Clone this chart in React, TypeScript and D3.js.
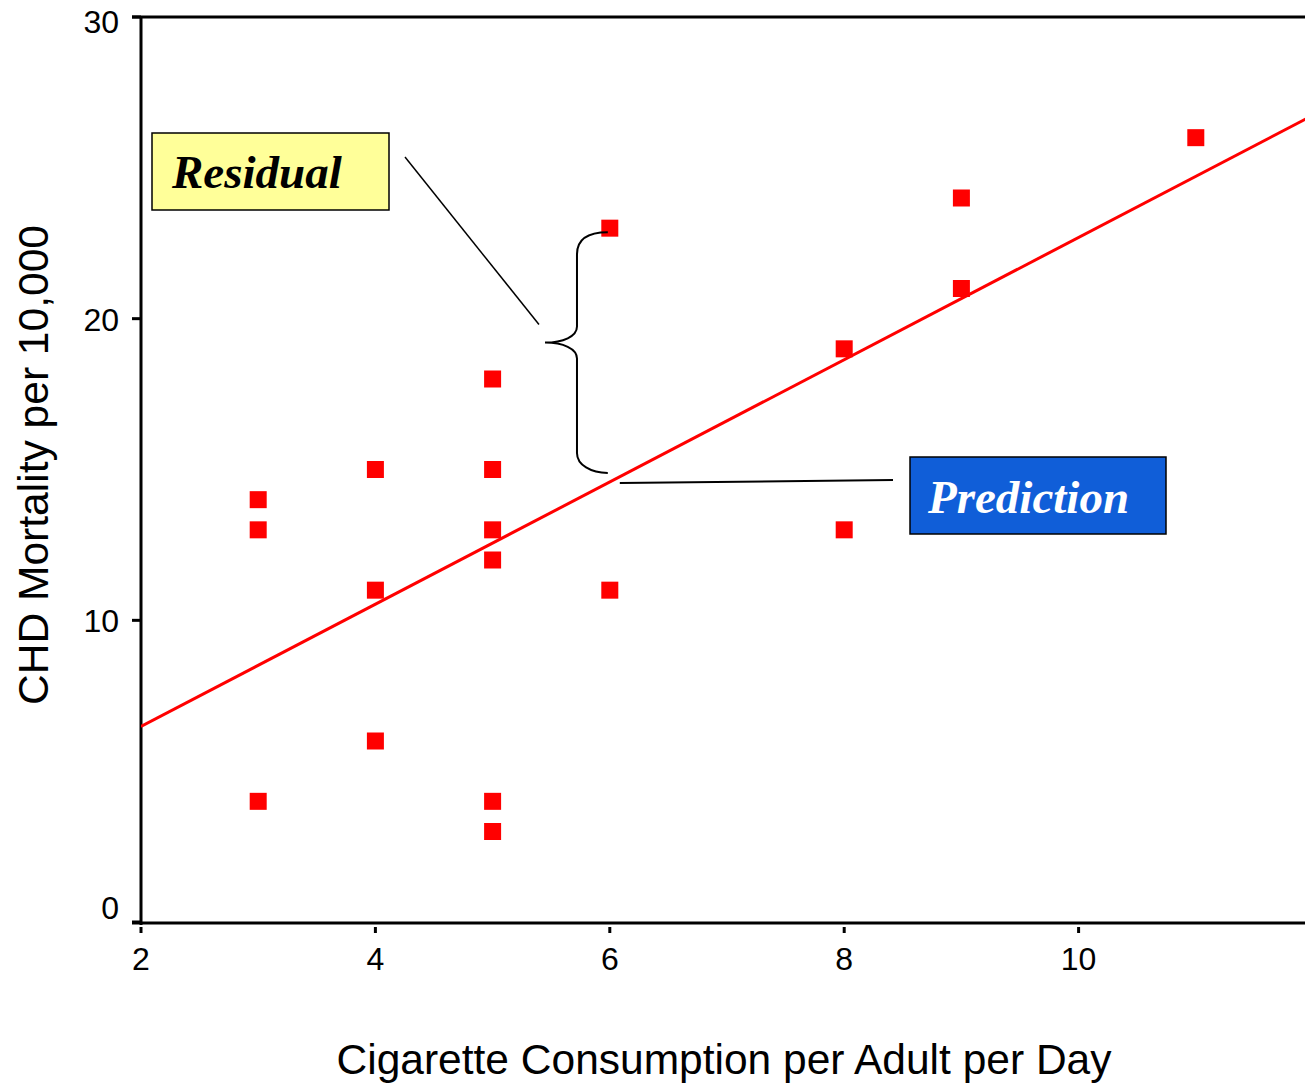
import React from "react";
import * as d3 from "d3";

const xValues = [3, 3, 3, 4, 4, 4, 5, 5, 5, 5, 5, 5, 6, 6, 8, 8, 9, 9, 11];
const yValues = [14, 13, 4, 15, 11, 6, 18, 15, 13, 12, 4, 3, 23, 11, 19, 13, 24, 21, 26];
const xTicks = [2, 4, 6, 8, 10];
const yTicks = [0, 10, 20, 30];
const xTitle = "Cigarette Consumption per Adult per Day";
const yTitle = "CHD Mortality per 10,000";
const residualLabel = "Residual";
const predictionLabel = "Prediction";

const W = 1305;
const H = 1088;
const LEFT = 141;
const TOP = 17;
const BOTTOM = 922;

export default function App() {
  const x = d3.scaleLinear().domain([2, 12]).range([LEFT, 1313]);
  const y = d3.scaleLinear().domain([0, 30]).range([BOTTOM, TOP]);

  // least squares fit
  const mx = d3.mean(xValues) as number;
  const my = d3.mean(yValues) as number;
  let sxy = 0, sxx = 0;
  xValues.forEach((v, i) => {
    sxy += (v - mx) * (yValues[i] - my);
    sxx += (v - mx) * (v - mx);
  });
  const slope = sxy / sxx;
  const intercept = my - slope * mx;
  const fit = (v: number) => intercept + slope * v;
  const line = d3.line<number>().x((d) => x(d)).y((d) => y(fit(d)));

  const bx = x(5.72);
  const bTop = y(23) + 4;
  const bBot = y(fit(6)) - 9;
  const bMid = (bTop + bBot) / 2 - 10;
  const tipX = bx - 32;
  const bracePath = `M${x(6) - 2},${bTop} C${bx + 10},${bTop} ${bx},${bTop + 8} ${bx},${bTop + 22}
    L${bx},${bMid - 16} C${bx},${bMid - 6} ${bx - 14},${bMid} ${tipX},${bMid}
    C${bx - 14},${bMid} ${bx},${bMid + 6} ${bx},${bMid + 16}
    L${bx},${bBot - 20} C${bx},${bBot - 8} ${bx + 14},${bBot} ${x(6) - 2},${bBot}`;

  return (
    <svg
      width={W}
      height={H}
      style={{ position: "absolute", left: 0, top: 0, background: "#fff" }}
      fontFamily="Liberation Sans, Arial, sans-serif"
    >
      <defs>
        <clipPath id="plot">
          <rect x={LEFT} y={TOP} width={W - LEFT} height={BOTTOM - TOP} />
        </clipPath>
      </defs>
      {/* axes frame */}
      <line x1={132} x2={W} y1={TOP} y2={TOP} stroke="#000" strokeWidth={3} />
      <line x1={132} x2={W} y1={BOTTOM + 1} y2={BOTTOM + 1} stroke="#000" strokeWidth={3} />
      <line x1={LEFT} x2={LEFT} y1={TOP} y2={BOTTOM + 3} stroke="#000" strokeWidth={3} />
      {yTicks.map((t) => (
        <g key={"y" + t}>
          <line x1={132} x2={LEFT} y1={y(t)} y2={y(t)} stroke="#000" strokeWidth={3} />
          <text
            x={119}
            y={Math.max(TOP + 16, Math.min(y(t) + 12, BOTTOM - 3))}
            textAnchor="end"
            fontSize={32}
          >
            {t}
          </text>
        </g>
      ))}
      {xTicks.map((t) => (
        <g key={"x" + t}>
          <line x1={x(t)} x2={x(t)} y1={BOTTOM + 5} y2={BOTTOM + 11} stroke="#000" strokeWidth={3} />
          <text x={x(t)} y={970} textAnchor="middle" fontSize={32}>
            {t}
          </text>
        </g>
      ))}
      <text x={724} y={1074} textAnchor="middle" fontSize={42} textLength={775} lengthAdjust="spacingAndGlyphs">
        {xTitle}
      </text>
      <text
        transform={`translate(48,465) rotate(-90)`}
        textAnchor="middle"
        fontSize={42}
        textLength={480}
        lengthAdjust="spacingAndGlyphs"
      >
        {yTitle}
      </text>

      {/* regression line */}
      <path d={line([2, 12]) as string} stroke="#ff0000" strokeWidth={3} fill="none" clipPath="url(#plot)" />

      {/* points */}
      {xValues.map((v, i) => (
        <rect
          key={i}
          x={x(v) - 8.5}
          y={y(yValues[i]) - 8.5}
          width={17}
          height={17}
          fill="#ff0000"
        />
      ))}

      {/* brace */}
      <path d={bracePath} fill="none" stroke="#000" strokeWidth={2} />
      <line x1={405} y1={157} x2={tipX - 6} y2={bMid - 18} stroke="#000" strokeWidth={1.5} />
      <line x1={x(6) + 10} y1={y(fit(6)) + 1} x2={893} y2={480} stroke="#000" strokeWidth={2} />

      {/* labels */}
      <rect x={152} y={133} width={237} height={77} fill="#ffff99" stroke="#000" strokeWidth={1.5} />
      <text
        x={172}
        y={188}
        fontFamily="Liberation Serif, Times New Roman, serif"
        fontWeight="bold"
        fontStyle="italic"
        fontSize={47}
        fill="#000"
      >
        {residualLabel}
      </text>
      <rect x={910} y={457} width={256} height={77} fill="#105ed8" stroke="#000" strokeWidth={1.5} />
      <text
        x={928}
        y={513}
        fontFamily="Liberation Serif, Times New Roman, serif"
        fontWeight="bold"
        fontStyle="italic"
        fontSize={47}
        fill="#fff"
      >
        {predictionLabel}
      </text>
    </svg>
  );
}
